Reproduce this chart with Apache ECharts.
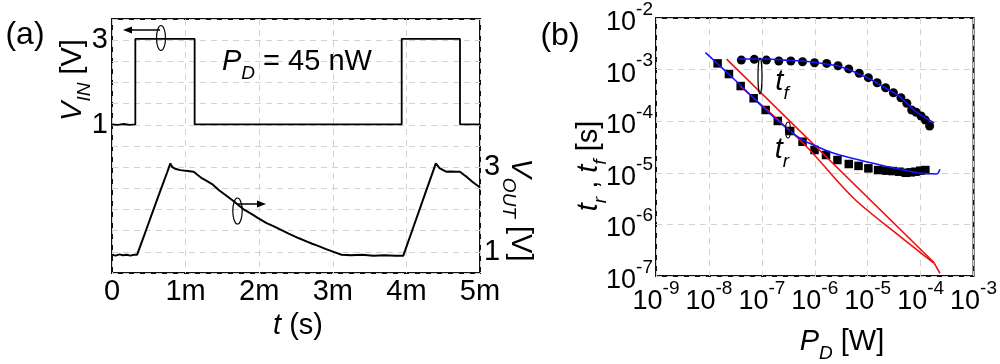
<!DOCTYPE html>
<html><head><meta charset="utf-8">
<script src="https://cdn.jsdelivr.net/npm/echarts@6/dist/echarts.min.js"></script>
<style>html,body{margin:0;padding:0;background:#fff}#c{width:1000px;height:364px}</style>
</head><body><div id="c"></div>
<script>
// ---------- Panel (a) data ----------
const leftXLabels = ['0', '1m', '2m', '3m', '4m', '5m'];
const vinTime = [0, 0.08, 0.16, 0.24, 0.317, 0.317, 0.40, 0.41, 0.55, 0.56, 0.66, 0.67, 0.88, 0.89, 1.02, 1.03, 1.123, 1.123, 1.25, 1.26, 1.62, 1.63, 2.05, 2.06, 2.45, 2.46, 2.86, 2.87, 3.30, 3.31, 3.936, 3.936, 4.10, 4.11, 4.30, 4.31, 4.45, 4.46, 4.55, 4.56, 4.728, 4.728, 4.86, 4.87, 5.0];
const vinVolt = [1.01, 1.00, 1.02, 1.00, 1.01, 3.03, 3.03, 3.07, 3.03, 3.07, 3.03, 3.06, 3.03, 3.07, 3.03, 3.06, 3.03, 1.01, 1.01, 1.04, 1.01, 1.03, 1.01, 1.03, 1.01, 1.03, 1.01, 1.03, 1.01, 1.03, 1.01, 3.03, 3.03, 3.06, 3.03, 3.06, 3.03, 3.06, 3.03, 3.06, 3.03, 1.01, 1.01, 1.04, 1.01];
const voutTime = [0, 0.05, 0.1, 0.15, 0.2, 0.25, 0.3, 0.34, 0.45, 0.55, 0.65, 0.75, 0.793, 0.82, 0.85, 0.883, 0.93, 0.974, 1.03, 1.08, 1.11, 1.16, 1.22, 1.28, 1.36, 1.45, 1.55, 1.65, 1.72, 1.80, 1.90, 1.99, 2.10, 2.20, 2.27, 2.40, 2.54, 2.65, 2.72, 2.80, 2.90, 3.01, 3.12, 3.25, 3.40, 3.55, 3.70, 3.85, 3.958, 4.10, 4.25, 4.40, 4.45, 4.50, 4.547, 4.60, 4.67, 4.728, 4.78, 4.82, 4.90, 5.0];
const voutVolt = [0.93, 0.91, 0.94, 0.92, 0.93, 0.91, 0.93, 0.93, 1.45, 1.93, 2.41, 2.88, 3.09, 3.00, 2.97, 2.95, 2.93, 2.92, 2.91, 2.90, 2.89, 2.82, 2.74, 2.68, 2.60, 2.46, 2.33, 2.20, 2.10, 1.99, 1.89, 1.79, 1.68, 1.60, 1.54, 1.43, 1.32, 1.24, 1.19, 1.14, 1.07, 1.00, 0.93, 0.92, 0.93, 0.91, 0.92, 0.91, 0.91, 1.61, 2.35, 3.09, 2.98, 2.93, 2.89, 2.90, 2.89, 2.89, 2.82, 2.77, 2.65, 2.52];

// ---------- Panel (b) data ----------
const tfPower = [4.1e-8, 7.2e-8, 1.22e-7, 2.09e-7, 3.53e-7, 5.87e-7, 9.9e-7, 1.68e-6, 2.75e-6, 4.39e-6, 6.92e-6, 1.03e-5, 1.51e-5, 2.18e-5, 3.06e-5, 4.25e-5, 5.48e-5, 6.78e-5, 8.24e-5, 1.02e-4, 1.23e-4, 1.48e-4];
const tfTime = [1.53e-3, 1.58e-3, 1.53e-3, 1.47e-3, 1.47e-3, 1.42e-3, 1.36e-3, 1.32e-3, 1.19e-3, 1.03e-3, 8.5e-4, 6.97e-4, 5.57e-4, 4.46e-4, 3.56e-4, 2.85e-4, 2.22e-4, 1.65e-4, 1.49e-4, 1.26e-4, 1.05e-4, 8.07e-5];
const trPower = [1.46e-8, 2.39e-8, 3.98e-8, 7.0e-8, 1.18e-7, 2.0e-7, 3.43e-7, 5.87e-7, 9.9e-7, 1.63e-6, 2.68e-6, 4.39e-6, 6.71e-6, 1.03e-5, 1.57e-5, 2.24e-5, 2.97e-5, 3.95e-5, 5.25e-5, 6.5e-5, 8.0e-5, 9.9e-5, 1.23e-4];
const trTime = [1.32e-3, 8.2e-4, 4.8e-4, 2.78e-4, 1.65e-4, 1.01e-4, 6.46e-5, 4.0e-5, 2.77e-5, 2.21e-5, 1.77e-5, 1.48e-5, 1.36e-5, 1.22e-5, 1.13e-5, 1.10e-5, 1.08e-5, 1.05e-5, 1.00e-5, 1.02e-5, 1.05e-5, 1.10e-5, 1.13e-5];
const fitFPower = [3.5e-8, 1e-7, 3e-7, 1e-6, 3e-6, 1e-5, 2e-5, 4e-5, 8e-5, 1.8e-4];
const fitFTime = [1.6e-3, 1.6e-3, 1.52e-3, 1.38e-3, 1.15e-3, 6.9e-4, 4.6e-4, 3.0e-4, 1.55e-4, 9.3e-5];
const fitRPower = [8.6e-9, 3e-8, 1e-7, 3e-7, 6e-7, 1.06e-6, 2e-6, 5.07e-6, 2.09e-5, 8.6e-5, 2.01e-4, 2.32e-4];
const fitRTime = [2.13e-3, 6.5e-4, 1.95e-4, 7.2e-5, 4.3e-5, 3.3e-5, 2.5e-5, 1.91e-5, 1.36e-5, 1.0e-5, 9.5e-6, 1.17e-5];
const redAPower = [2.16e-8, 1.75e-4, 2.32e-4];
const redATime = [1.6e-3, 1.87e-7, 1.13e-7];
const redBPower = [3.87e-8, 6.05e-7, 5.36e-6, 3.19e-5, 1.75e-4];
const redBTime = [4.81e-4, 3.73e-5, 3.25e-6, 7.13e-7, 1.79e-7];

const FONT = '"Liberation Sans", Arial, sans-serif';
const pairs = (xs, ys) => xs.map((x, i) => [x, ys[i]]);
const grey = '#d2d2d2';
const split = {show: true, lineStyle: {color: grey, type: [6, 5], width: 1}};
const expRich = {
  b: {fontSize: 27, fontFamily: FONT, color: '#000', lineHeight: 36, verticalAlign: 'bottom'},
  e: {fontSize: 19, fontFamily: FONT, color: '#000', lineHeight: 36, verticalAlign: 'top'}
};
const expFmt = v => '{b|10}{e|' + Math.round(Math.log10(v)) + '}';
const txtRich = {
  n: {fontSize: 29, fontFamily: FONT, color: '#000', lineHeight: 42, verticalAlign: 'middle'},
  i: {fontSize: 29, fontFamily: FONT, color: '#000', fontStyle: 'italic', lineHeight: 42, verticalAlign: 'middle'},
  s: {fontSize: 19, fontFamily: FONT, color: '#000', fontStyle: 'italic', lineHeight: 42, verticalAlign: 'bottom'},
  big: {fontSize: 32, fontFamily: FONT, color: '#000', lineHeight: 42, verticalAlign: 'middle'}
};
function label(x, y, text, rot, align) {
  return {type: 'text', x: x, y: y, rotation: rot || 0, silent: true, z: 100,
    style: {text: text, rich: txtRich, align: align || 'center', verticalAlign: 'middle', font: '29px ' + FONT}};
}
function ell(cx, cy, rx, ry) {
  return {type: 'ellipse', shape: {cx: cx, cy: cy, rx: rx, ry: ry}, silent: true, z: 100,
    style: {fill: 'none', stroke: '#000', lineWidth: 1.2}};
}
function arrow(x1, y1, x2, y2) {
  const dir = Math.sign(x2 - x1);
  return [
    {type: 'line', shape: {x1: x1, y1: y1, x2: x2 - dir * 6, y2: y2}, silent: true, z: 100, style: {stroke: '#000', lineWidth: 1.5}},
    {type: 'polygon', shape: {points: [[x2, y2], [x2 - dir * 9, y2 - 3.5], [x2 - dir * 9, y2 + 3.5]]}, silent: true, z: 100, style: {fill: '#000'}}
  ];
}

const chart = echarts.init(document.getElementById('c'), null, {renderer: 'canvas'});
chart.setOption({
  animation: false,
  backgroundColor: '#fff',
  grid: [
    {left: 112, top: 19, width: 368, height: 254, show: true, borderColor: '#111', borderWidth: 2, backgroundColor: 'transparent', containLabel: false},
    {left: 656, top: 18, width: 325, height: 258, show: true, borderColor: '#111', borderWidth: 2, backgroundColor: 'transparent', containLabel: false}
  ],
  xAxis: [
    {gridIndex: 0, type: 'value', min: 0, max: 5, interval: 1,
      axisLine: {show: false}, axisTick: {show: false}, splitLine: split,
      axisLabel: {fontSize: 29, fontFamily: FONT, color: '#000', margin: 4, formatter: v => leftXLabels[Math.round(v)]}},
    {gridIndex: 1, type: 'log', logBase: 10, min: 1e-9, max: 1e-3, splitNumber: 6,
      axisLine: {show: false}, axisTick: {show: false}, splitLine: split,
      axisLabel: {margin: 3, formatter: expFmt, rich: expRich}}
  ],
  yAxis: [
    {gridIndex: 0, type: 'value', min: -2.5, max: 3.5, interval: 0.5,
      axisLine: {show: false}, axisTick: {show: false}, splitLine: split,
      axisLabel: {fontSize: 29, fontFamily: FONT, color: '#000', margin: 4, formatter: v => (v === 1 || v === 3) ? String(v) : ''}},
    {gridIndex: 0, type: 'value', position: 'right', min: 0.5, max: 6.5, interval: 0.5,
      axisLine: {show: false}, axisTick: {show: false}, splitLine: {show: false},
      axisLabel: {fontSize: 29, fontFamily: FONT, color: '#000', margin: 4, formatter: v => (v === 1 || v === 3) ? String(v) : ''}},
    {gridIndex: 1, type: 'log', logBase: 10, min: 1e-7, max: 1e-2, splitNumber: 5,
      axisLine: {show: false}, axisTick: {show: false}, splitLine: split,
      axisLabel: {margin: 3, formatter: expFmt, rich: expRich}}
  ],
  series: [
    {name: 'V_IN', type: 'line', xAxisIndex: 0, yAxisIndex: 0, data: pairs(vinTime, vinVolt), showSymbol: false, lineStyle: {color: '#000', width: 1.8}},
    {name: 'V_OUT', type: 'line', xAxisIndex: 0, yAxisIndex: 1, data: pairs(voutTime, voutVolt), showSymbol: false, lineStyle: {color: '#000', width: 2}},
    {name: 'red A', type: 'line', xAxisIndex: 1, yAxisIndex: 2, data: pairs(redAPower, redATime), showSymbol: false, lineStyle: {color: '#f01010', width: 1.6}},
    {name: 'red B', type: 'line', xAxisIndex: 1, yAxisIndex: 2, data: pairs(redBPower, redBTime), showSymbol: false, smooth: 0.3, lineStyle: {color: '#f01010', width: 1.6}},
    {name: 'fit tf', type: 'line', xAxisIndex: 1, yAxisIndex: 2, data: pairs(fitFPower, fitFTime), showSymbol: false, smooth: 0.3, lineStyle: {color: '#1414ff', width: 1.6}},
    {name: 'fit tr', type: 'line', xAxisIndex: 1, yAxisIndex: 2, data: pairs(fitRPower, fitRTime), showSymbol: false, smooth: 0.3, lineStyle: {color: '#1414ff', width: 1.6}},
    {name: 't_f', type: 'scatter', xAxisIndex: 1, yAxisIndex: 2, data: pairs(tfPower, tfTime), symbol: 'circle', symbolSize: 9, itemStyle: {color: '#000', opacity: 1, borderWidth: 0}},
    {name: 't_r', type: 'scatter', xAxisIndex: 1, yAxisIndex: 2, data: pairs(trPower, trTime), symbol: 'rect', symbolSize: 8.5, itemStyle: {color: '#000', opacity: 1, borderWidth: 0}}
  ],
  graphic: [
    label(25, 35, '{big|(a)}'),
    label(560, 36, '{big|(b)}'),
    label(73, 80, '{i|V}{s|IN}{n| [V]}', Math.PI / 2),
    label(520, 210, '{i|V}{s|OUT}{n| [V]}', -Math.PI / 2),
    label(298, 326, '{i|t}{n| (s)}'),
    label(222, 62, '{i|P}{s|D}{n| = 45 nW}', 0, 'left'),
    label(589, 166, '{i|t}{s|r}{n| , }{i|t}{s|f}{n| [s]}', Math.PI / 2),
    label(842, 342, '{i|P}{s|D}{n| [W]}'),
    label(782, 82, '{i|t}{s|f}'),
    label(782, 150, '{i|t}{s|r}'),
    ell(161, 38, 4.5, 12.5),
    ell(237.5, 211, 4.7, 13),
    ell(760, 76, 2, 18),
    ell(788, 130, 2.5, 8),
    ...arrow(160, 30, 123, 30),
    ...arrow(238, 204, 266, 204)
  ]
});
</script></body></html>
